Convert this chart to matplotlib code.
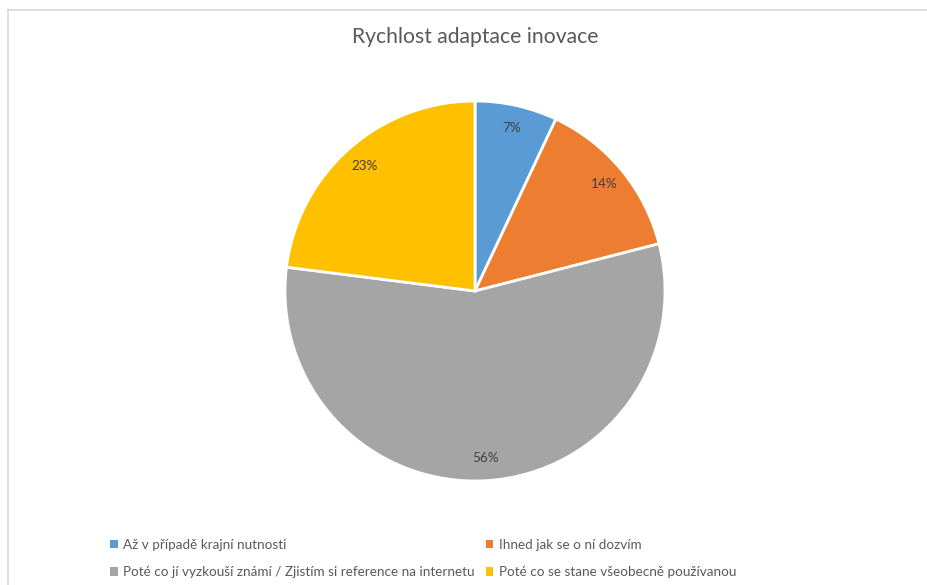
import matplotlib
matplotlib.use("Agg")
import matplotlib.pyplot as plt
from matplotlib.patches import Patch
from matplotlib.lines import Line2D

title = "Rychlost adaptace inovace"
categories = [
    "Až v případě krajní nutnosti",
    "Ihned jak se o ní dozvím",
    "Poté co jí vyzkouší známí / Zjistím si reference na internetu",
    "Poté co se stane všeobecně používanou",
]
values = [7, 14, 56, 23]
colors = ["#5B9BD5", "#ED7D31", "#A5A5A5", "#FFC000"]

FONT = ["Lato", "DejaVu Sans"]
plt.rcParams["font.family"] = FONT

W, H = 928, 585
fig = plt.figure(figsize=(W / 100, H / 100), dpi=100)
fig.patch.set_facecolor("white")

# Frame border (light gray, starts at top-left, runs off right/bottom)
fx, fy = 7.5 / W, 1 - 9.5 / H
fig.add_artist(Line2D([fx, 1.0], [fy, fy], transform=fig.transFigure, color="#D9D9D9", lw=1.2))
fig.add_artist(Line2D([fx, fx], [fy, 0.0], transform=fig.transFigure, color="#D9D9D9", lw=1.2))

# Pie axes: center (475, 291), radius 190 px
cx, cy, r = 475, 291, 190
ax = fig.add_axes([(cx - r) / W, (H - cy - r) / H, 2 * r / W, 2 * r / H])
wedges, texts, autotexts = ax.pie(
    values,
    colors=colors,
    startangle=90,
    counterclock=False,
    autopct=lambda p: f"{p:.0f}%",
    pctdistance=0.88,
    wedgeprops=dict(edgecolor="white", linewidth=2),
    textprops=dict(color="#404040", fontsize=9.7),
)
ax.set_xlim(-1, 1)
ax.set_ylim(-1, 1)
ax.set_aspect("equal")
ax.axis("off")

fig.text(cx / W, 1 - 37 / H, title, ha="center", va="center",
         fontsize=15.2, color="#595959")

# Legend: row-wise layout in 2 columns
handles = [Patch(facecolor=c, edgecolor="none") for c in colors]
order = [0, 2, 1, 3]
leg = fig.legend(
    [handles[i] for i in order],
    [categories[i] for i in order],
    ncol=2,
    loc="center left",
    bbox_to_anchor=(110 / W, 1 - 558.5 / H),
    frameon=False,
    fontsize=9.72,
    labelcolor="#595959",
    handlelength=0.57,
    handleheight=0.57,
    handletextpad=0.42,
    columnspacing=0.8,
    labelspacing=1.15,
    borderpad=0,
    borderaxespad=0,
)

fig.savefig("out.png", dpi=100, facecolor="white")
